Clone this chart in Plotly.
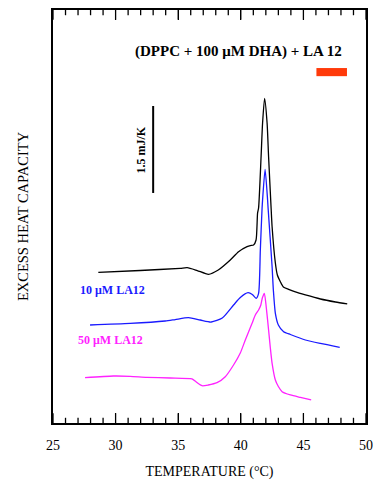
import plotly.graph_objects as go

# Temperature (°C) and excess heat capacity (mJ/K, offset per curve)
t_dha = [28.62, 31.96, 35.16, 35.72, 36.52, 37.42, 38.2, 39.16, 39.82, 40.5, 40.76, 41.02,
         41.22, 41.34, 41.42, 41.62, 41.74, 41.9, 42.1, 42.22, 42.42, 42.5, 42.76, 42.92,
         43.16, 43.4, 43.82, 44.36, 45.16, 46.36, 47.56, 48.5]
cp_dha = [2.598, 2.629, 2.667, 2.678, 2.629, 2.564, 2.638, 2.81, 2.953, 3.04, 3.06, 3.069,
          3.155, 3.621, 3.707, 4.591, 5.172, 5.598, 5.172, 4.591, 3.707, 3.384, 2.759, 2.552,
          2.436, 2.345, 2.305, 2.259, 2.207, 2.138, 2.086, 2.052]

t_la10 = [27.96, 31.16, 33.96, 34.76, 35.82, 36.76, 37.64, 38.52, 39.42, 39.96, 40.58, 40.92,
          41.22, 41.42, 41.56, 41.7, 41.74, 41.94, 42.14, 42.18, 42.5, 42.6, 42.76, 43.0,
          43.42, 43.96, 45.16, 46.36, 47.9]
cp_la10 = [1.69, 1.716, 1.759, 1.784, 1.816, 1.776, 1.741, 1.81, 2.034, 2.164, 2.247, 2.216,
           2.15, 2.236, 2.983, 3.707, 3.845, 4.374, 3.845, 3.707, 2.695, 2.293, 1.891, 1.69,
           1.574, 1.526, 1.431, 1.371, 1.305]

t_la50 = [27.56, 29.82, 31.16, 32.5, 34.36, 36.1, 36.44, 36.9, 37.4, 38.1, 38.76, 39.42,
          39.96, 40.36, 40.9, 41.16, 41.42, 41.6, 41.72, 41.88, 42.04, 42.22, 42.36, 42.5,
          42.76, 43.0, 43.3, 43.96, 44.76, 45.62]
cp_la50 = [0.781, 0.81, 0.805, 0.788, 0.776, 0.759, 0.707, 0.643, 0.655, 0.695, 0.798, 1.0,
           1.207, 1.431, 1.719, 1.862, 1.948, 2.034, 2.155, 2.236, 1.983, 1.603, 1.293, 1.029,
           0.741, 0.629, 0.54, 0.483, 0.44, 0.397]

x_major_ticks = [25, 30, 35, 40, 45, 50]
x_minor_ticks = [v for v in range(25, 51) if v % 5 != 0]
x_range = [25, 50]
y_range = [0, 7.1207]

SERIF = "Liberation Serif, Times New Roman, serif"

fig = go.Figure()
for t, cp, col in [(t_dha, cp_dha, "black"), (t_la10, cp_la10, "#1a1aff"), (t_la50, cp_la50, "#ff22ff")]:
    fig.add_trace(go.Scatter(x=t, y=cp, mode="lines",
                             line=dict(color=col, width=1.3, shape="spline", smoothing=0.6),
                             showlegend=False, hoverinfo="skip"))

# inside tick marks on bottom and top frame edges, built from the tick lists
major_len = 0.17 * (y_range[1] - y_range[0]) / 7.12
minor_len = 0.09 * (y_range[1] - y_range[0]) / 7.12
tx, ty = [], []
for ticks, ln in [(x_major_ticks, major_len), (x_minor_ticks, minor_len)]:
    for v in ticks:
        tx += [v, v, None, v, v, None]
        ty += [y_range[0], y_range[0] + ln, None, y_range[1], y_range[1] - ln, None]
fig.add_trace(go.Scatter(x=tx, y=ty, mode="lines", line=dict(color="black", width=1.3),
                         showlegend=False, hoverinfo="skip", cliponaxis=False))

# scale bar 1.5 mJ/K
scale_x = 33.0
scale_y0 = 3.966
fig.add_shape(type="line", x0=scale_x, x1=scale_x, y0=scale_y0, y1=scale_y0 + 1.5,
              line=dict(color="black", width=2))
fig.add_annotation(x=32.0, y=4.71, text="<b>1.5 mJ/K</b>", showarrow=False, textangle=-90,
                   font=dict(family=SERIF, size=12, color="black"))

# red marker
fig.add_shape(type="rect", x0=46.04, x1=48.48, y0=5.98, y1=6.12,
              fillcolor="#ff3a0a", line=dict(width=0))

fig.add_annotation(x=39.8, y=6.4, text="<b>(DPPC + 100 μM DHA) + LA 12</b>", showarrow=False,
                   font=dict(family=SERIF, size=15, color="black"))
fig.add_annotation(x=27.0, y=2.29, text="<b>10 μM LA12</b>", showarrow=False, xanchor="left",
                   font=dict(family=SERIF, size=12, color="#1a1aff"))
fig.add_annotation(x=26.85, y=1.43, text="<b>50 μM LA12</b>", showarrow=False, xanchor="left",
                   font=dict(family=SERIF, size=12, color="#ff22ff"))

fig.update_layout(
    width=373, height=480,
    margin=dict(l=53, r=7, t=10, b=57, autoexpand=False),
    paper_bgcolor="white", plot_bgcolor="white",
    font=dict(family=SERIF, size=14, color="black"),
    xaxis=dict(range=x_range, tickvals=x_major_ticks,
               ticks="inside", ticklen=10, tickwidth=1.3,
               tickcolor="black", showline=True, linecolor="black", linewidth=1.8,
               mirror="ticks", showgrid=False, zeroline=False, automargin=False,
               tickfont=dict(family=SERIF, size=14), ticklabelstandoff=8,
               title=dict(text="TEMPERATURE (°C)", font=dict(family=SERIF, size=14), standoff=22)),
    yaxis=dict(range=y_range, showticklabels=False, ticks="", showline=True, linecolor="black",
               linewidth=1.8, mirror=True, showgrid=False, zeroline=False, automargin=False,
               title=dict(text="EXCESS HEAT CAPACITY", font=dict(family=SERIF, size=14.5), standoff=19)),
)
fig.write_html("out.html", post_script="document.body.style.margin='0';",
               config={"displayModeBar": False})
